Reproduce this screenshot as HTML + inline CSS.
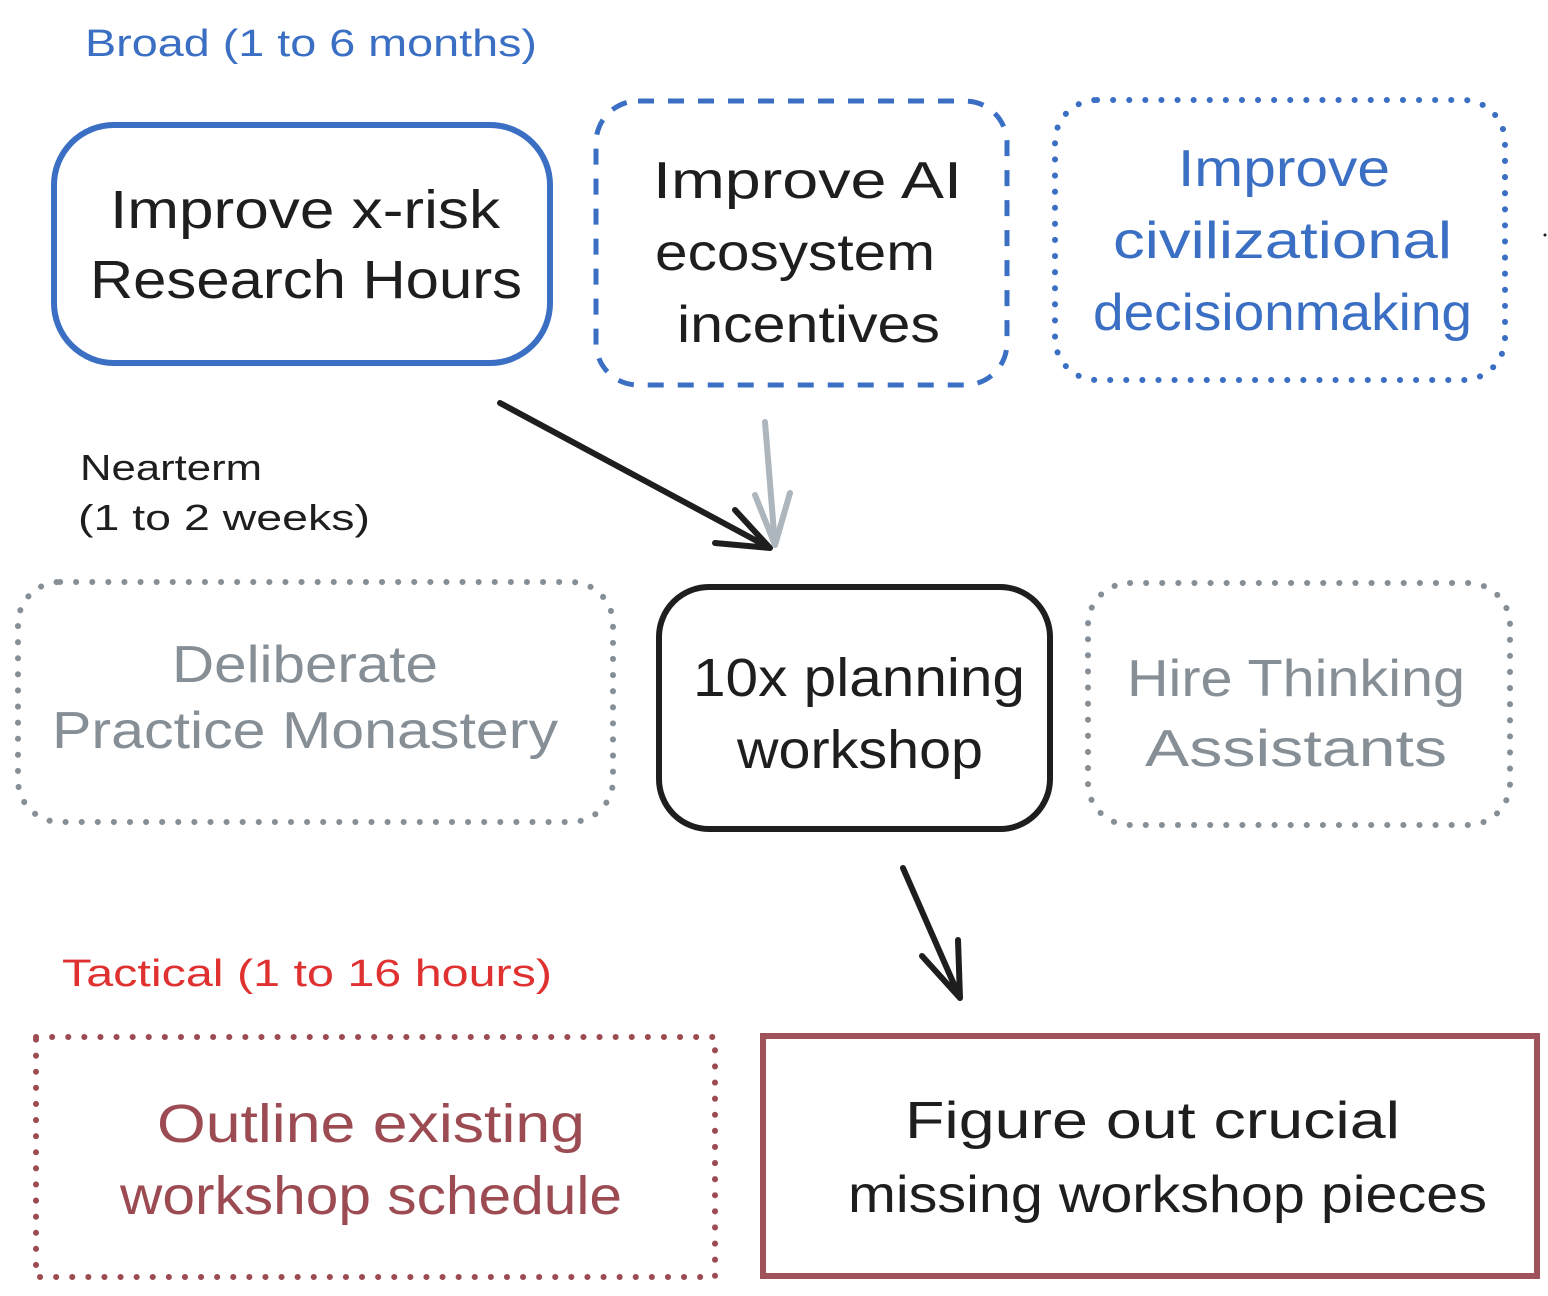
<!DOCTYPE html>
<html><head><meta charset="utf-8"><style>
html,body{margin:0;padding:0;background:#fff;}
svg{display:block;}
text{font-family:"Liberation Sans",sans-serif;}
</style></head><body>
<svg width="1548" height="1296" viewBox="0 0 1548 1296" xmlns="http://www.w3.org/2000/svg">
<g lengthAdjust="spacingAndGlyphs">
<text x="85" y="56" font-size="38" fill="#3a6fc4" textLength="452" lengthAdjust="spacingAndGlyphs">Broad (1 to 6 months)</text>
<text x="80" y="480" font-size="36" fill="#1e1e1e" textLength="182" lengthAdjust="spacingAndGlyphs">Nearterm</text>
<text x="78" y="530" font-size="36" fill="#1e1e1e" textLength="292" lengthAdjust="spacingAndGlyphs">(1 to 2 weeks)</text>
<text x="62" y="986" font-size="38" fill="#e03131" textLength="490" lengthAdjust="spacingAndGlyphs">Tactical (1 to 16 hours)</text>
</g>

<rect x="54" y="125" width="496" height="238" rx="60" fill="none" stroke="#3a6fc4" stroke-width="6"/>
<g font-size="54" fill="#1e1e1e">
<text x="110" y="228" textLength="390" lengthAdjust="spacingAndGlyphs">Improve x-risk</text>
<text x="90" y="298" textLength="432" lengthAdjust="spacingAndGlyphs">Research Hours</text>
</g>
<rect x="596" y="101" width="411" height="284" rx="42" fill="none" stroke="#3a6fc4" stroke-width="5" stroke-dasharray="16 14"/>
<g font-size="52" fill="#1e1e1e">
<text x="653" y="198" textLength="309" lengthAdjust="spacingAndGlyphs">Improve AI</text>
<text x="655" y="270" textLength="280" lengthAdjust="spacingAndGlyphs">ecosystem</text>
<text x="677" y="342" textLength="263" lengthAdjust="spacingAndGlyphs">incentives</text>
</g>
<rect x="1055" y="100" width="450" height="280" rx="42" fill="none" stroke="#3a6fc4" stroke-width="6" stroke-dasharray="0.1 16" stroke-linecap="round"/>
<g font-size="52" fill="#3a6fc4">
<text x="1178" y="186" textLength="212" lengthAdjust="spacingAndGlyphs">Improve</text>
<text x="1113" y="258" textLength="339" lengthAdjust="spacingAndGlyphs">civilizational</text>
<text x="1093" y="330" textLength="379" lengthAdjust="spacingAndGlyphs">decisionmaking</text>
</g>
<circle cx="1545" cy="235" r="1.5" fill="#1e1e1e"/>

<g fill="none" stroke-linecap="round" stroke-linejoin="round">
<path d="M500 403 L770 548 M715 543 L770 548 L735 510" stroke="#1e1e1e" stroke-width="6"/>
<path d="M765 422 L775 545 M755 495 L775 545 L790 493" stroke="#adb5bd" stroke-width="6"/>
<path d="M903 868 L960 998 M922 956 L960 998 L958 940" stroke="#1e1e1e" stroke-width="6"/>
</g>

<rect x="18" y="582" width="595" height="240" rx="42" fill="none" stroke="#868e96" stroke-width="6" stroke-dasharray="0.1 16" stroke-linecap="round"/>
<g font-size="52" fill="#868e96">
<text x="172" y="682" textLength="266" lengthAdjust="spacingAndGlyphs">Deliberate</text>
<text x="52" y="748" textLength="506" lengthAdjust="spacingAndGlyphs">Practice Monastery</text>
</g>
<rect x="659" y="587" width="391" height="242" rx="50" fill="none" stroke="#1e1e1e" stroke-width="6"/>
<g font-size="54" fill="#1e1e1e">
<text x="693" y="696" textLength="332" lengthAdjust="spacingAndGlyphs">10x planning</text>
<text x="737" y="768" textLength="246" lengthAdjust="spacingAndGlyphs">workshop</text>
</g>
<rect x="1088" y="583" width="422" height="242" rx="42" fill="none" stroke="#868e96" stroke-width="6" stroke-dasharray="0.1 16" stroke-linecap="round"/>
<g font-size="52" fill="#868e96">
<text x="1127" y="696" textLength="338" lengthAdjust="spacingAndGlyphs">Hire Thinking</text>
<text x="1145" y="766" textLength="302" lengthAdjust="spacingAndGlyphs">Assistants</text>
</g>

<rect x="36" y="1037" width="679" height="240" fill="none" stroke="#9c4b52" stroke-width="6" stroke-dasharray="0.1 16" stroke-linecap="round"/>
<g font-size="54" fill="#9c4b52">
<text x="157" y="1142" textLength="428" lengthAdjust="spacingAndGlyphs">Outline existing</text>
<text x="120" y="1214" textLength="502" lengthAdjust="spacingAndGlyphs">workshop schedule</text>
</g>
<rect x="763" y="1036" width="774" height="240" fill="none" stroke="#a0525a" stroke-width="6"/>
<g font-size="52" fill="#1e1e1e">
<text x="905" y="1138" textLength="495" lengthAdjust="spacingAndGlyphs">Figure out crucial</text>
<text x="848" y="1212" textLength="639" lengthAdjust="spacingAndGlyphs">missing workshop pieces</text>
</g>
</svg>
</body></html>
